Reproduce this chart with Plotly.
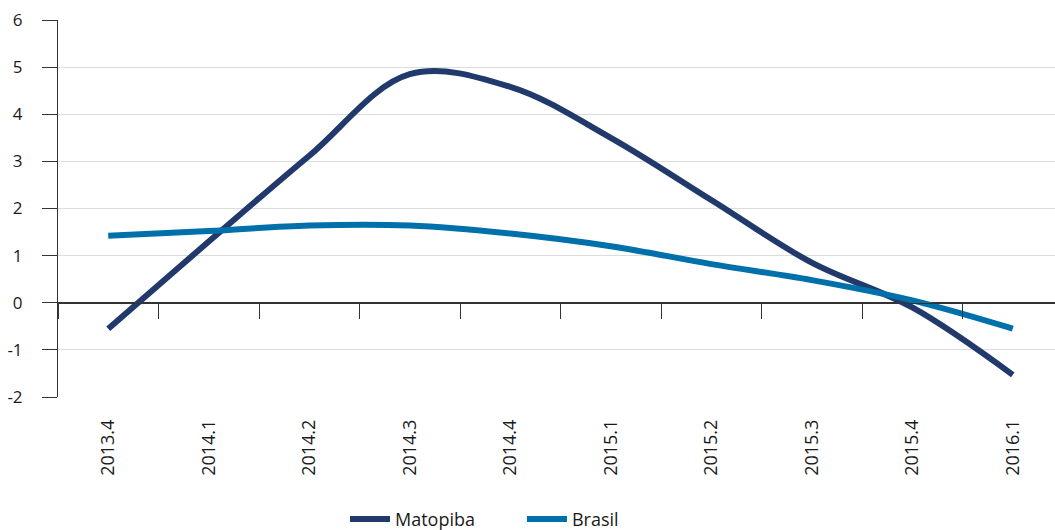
import plotly.graph_objects as go

quarters = ["2013.4", "2014.1", "2014.2", "2014.3", "2014.4",
            "2015.1", "2015.2", "2015.3", "2015.4", "2016.1"]
matopiba = [-0.55, 1.3, 3.12, 4.85, 4.58, 3.5, 2.18, 0.85, -0.1, -1.53]
brasil = [1.42, 1.52, 1.64, 1.64, 1.47, 1.2, 0.82, 0.48, 0.05, -0.55]
y_ticks = [-2, -1, 0, 1, 2, 3, 4, 5, 6]
y_labels = ["-2", "-1", "0", "1", "2", "3", "4", "5", "6"]

fig = go.Figure()
fig.add_trace(go.Scatter(
    x=quarters, y=matopiba, name="Matopiba", mode="lines",
    line=dict(color="#223a6b", width=6, shape="spline", smoothing=1.0),
))
fig.add_trace(go.Scatter(
    x=quarters, y=brasil, name="Brasil", mode="lines", xaxis="x2",
    line=dict(color="#0070aa", width=6, shape="spline", smoothing=1.0),
))

xr = [-0.5, 9.42]
fig.update_layout(
    width=1055, height=530,
    margin=dict(l=58, r=0, t=20, b=133),
    paper_bgcolor="white", plot_bgcolor="white",
    font=dict(family="Open Sans", size=17, color="#1a1a1a"),
    showlegend=True,
    legend=dict(orientation="h", xref="container", x=0.327, xanchor="left",
                yref="container", y=0.02, yanchor="middle",
                font=dict(size=18), entrywidth=122, entrywidthmode="pixels",
                itemwidth=40, tracegroupgap=0),
    xaxis=dict(
        type="category", range=xr, showgrid=False, showline=False, automargin=False,
        ticks="", tickangle=-90, ticklabelstandoff=18, tickfont=dict(size=18),
    ),
    # second x axis sits on y=0 and carries the boundary tick marks
    xaxis2=dict(
        type="category", range=xr, overlaying="x", anchor="free", position=0.25,
        showgrid=False, showline=True, linecolor="#333", linewidth=1,
        ticks="outside", ticklen=15, tickcolor="#333", tickson="boundaries",
        showticklabels=False,
    ),
    yaxis=dict(
        range=[-2, 6], tickmode="array", tickvals=y_ticks, ticktext=y_labels,
        automargin=False,
        showgrid=True, gridcolor="#dcdcdc", gridwidth=1,
        zeroline=True, zerolinecolor="#333", zerolinewidth=1,
        showline=True, linecolor="#333", linewidth=1,
        ticks="outside", ticklen=15, tickcolor="#333", ticklabelstandoff=16,
    ),
)

# drop the page's default body margin so the figure sits at the window origin
fig.write_html("out.html", config={"displayModeBar": False},
               post_script="document.body.style.margin='0';")
